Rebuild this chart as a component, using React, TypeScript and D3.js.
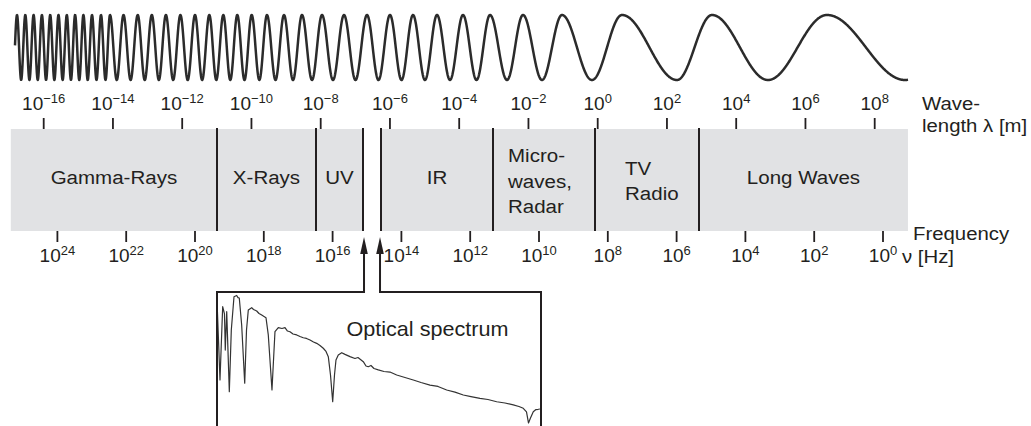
import React from 'react';
import * as d3 from 'd3';

const W = 1031;
const H = 426;

// ---- axis data ----
const wavelengthExponents = [-16, -14, -12, -10, -8, -6, -4, -2, 0, 2, 4, 6, 8];
const frequencyExponents = [24, 22, 20, 18, 16, 14, 12, 10, 8, 6, 4, 2, 0];

// ---- band data (log10 wavelength in m) ----
const bandExtent = [-16.95, 8.96];
const bandDividers = [-10.995, -8.136, -6.778, -6.258, -3.024, -0.078, 2.926];
const visibleGap = [-6.778, -6.258];
const bandNames = ['Gamma-Rays', 'X-Rays', 'UV', 'IR', 'Micro-|waves,|Radar', 'TV|Radio', 'Long Waves'];
const bandFrom = [-16.95, -10.995, -8.136, -6.258, -3.024, -0.078, 2.926];
const bandTo = [-10.995, -8.136, -6.778, -3.024, -0.078, 2.926, 8.96];

// ---- wave: positions of extrema (log10 wavelength), starting with a trough ----
const waveExtrema = [
  -16.892, -16.771, -16.651, -16.531, -16.412, -16.292, -16.172, -16.052, -15.932, -15.812,
  -15.692, -15.573, -15.453, -15.333, -15.213, -15.093, -14.973, -14.853, -14.729, -14.605,
  -14.475, -14.345, -14.215, -14.085, -13.890, -13.695, -13.490, -13.285, -13.082, -12.878,
  -12.674, -12.471, -12.261, -12.052, -11.841, -11.630, -11.424, -11.217, -11.015, -10.813,
  -10.611, -10.409, -10.201, -9.993, -9.772, -9.551, -9.305, -9.060, -8.800, -8.540,
  -8.251, -7.962, -7.645, -7.327, -6.995, -6.663, -6.331, -5.999, -5.666, -5.334,
  -4.988, -4.641, -4.266, -3.890, -3.500, -3.110, -2.619, -2.157, -1.609, -1.031,
  -0.165, 0.702, 2.290, 3.301, 4.919, 6.622, 8.875,
];
const waveRange = [-16.829, 8.962];

// ---- optical spectrum (wavelength nm, relative intensity) ----
const specNm = [
  350.6, 356.0, 361.4, 365.0, 366.6, 369.5, 374.7, 378.7, 384.1, 389.5, 392.1, 394.7, 399.5, 405.6,
  409.2, 412.8, 419.6, 423.2, 429.6, 434.3, 439.7, 444.3, 448.3, 452.9, 460.3, 466.3, 473.0, 480.3,
  486.4, 491.4, 496.4, 502.5, 509.9, 516.5, 523.1, 529.5, 536.6, 543.6, 550.0, 556.6, 563.2, 568.7,
  573.3, 577.7, 582.1, 585.7, 588.7, 593.3, 600.2, 606.8, 616.8, 626.8, 632.8, 643.5, 648.9, 653.5,
  658.9, 664.9, 673.6, 685.0, 697.0, 710.5, 727.1, 743.8, 759.3, 777.3, 793.3, 810.8, 827.4, 844.1,
  859.5, 877.6, 893.6, 911.1, 927.7, 944.4, 955.8, 964.4, 970.9, 974.9, 978.9, 984.5, 989.9, 994.5, 997.9,
];
const specIntensity = [
  86.9, 35.7, 88.1, 82.9, 57.1, 84.5, 27.4, 71.4, 95.2, 96.1, 94.6, 94.3, 75.0, 33.4,
  71.4, 85.7, 87.4, 86.1, 85.0, 83.2, 82.1, 81.1, 80.2, 67.9, 28.6, 70.2, 73.1, 72.5,
  73.1, 70.7, 70.2, 68.6, 67.9, 66.8, 65.9, 65.4, 64.3, 62.9, 61.9, 60.4, 58.4, 56.1,
  52.4, 39.3, 20.2, 39.3, 50.0, 53.6, 55.2, 54.0, 52.4, 51.1, 51.8, 48.8, 45.7, 45.2,
  46.1, 43.9, 42.9, 41.8, 41.4, 39.3, 37.5, 35.7, 33.9, 32.1, 31.1, 28.6, 27.1, 25.0,
  23.9, 22.6, 21.8, 20.2, 19.3, 17.9, 16.8, 15.5, 12.9, 5.0, 8.6, 13.1, 14.6, 14.8, 15.0,
];

const FONT = '"Liberation Sans", Arial, Helvetica, sans-serif';
const INK = '#231f20';

function T({ x, y, size, sx = 1, anchor = 'start', children }: any) {
  return (
    <text
      transform={`translate(${x},${y}) scale(${sx},1)`}
      fontSize={size}
      fontFamily={FONT}
      fill={INK}
      textAnchor={anchor}
    >
      {children}
    </text>
  );
}

export default function App() {
  const xL = d3.scaleLinear().domain([-16, 8]).range([43.7, 874.7]);
  const xF = d3.scaleLinear().domain([24, 0]).range([57.4, 883]);

  const bandTop = 129;
  const bandBottom = 231;

  // wave
  const phase = d3
    .scaleLinear()
    .domain(waveExtrema)
    .range(waveExtrema.map((_, i) => Math.PI * (i + 1)));
  const yc = 47.5;
  const amp = 32.5;
  const px0 = xL(waveRange[0]);
  const px1 = xL(waveRange[1]);
  const wavePts: [number, number][] = d3
    .range(px0, px1, 0.3)
    .concat([px1])
    .map((px) => [px, yc - amp * Math.cos(phase(xL.invert(px)))]);
  const wavePath = d3.line()(wavePts) || '';

  // spectrum
  const xS = d3.scaleLinear().domain([350, 1000]).range([217, 541]);
  const yS = d3.scaleLinear().domain([0, 100]).range([430, 290]);
  const specLine = d3
    .line<number>()
    .x((d) => xS(specNm[d]))
    .y((d) => yS(specIntensity[d]))(d3.range(specNm.length)) || '';

  const boxL = 217;
  const boxR = 541;
  const boxT = 292;
  const arrowL = xL(visibleGap[0]) + 1;
  const arrowR = xL(visibleGap[1]) - 1;
  const tipY = 237;
  const headY = 253;

  return (
    <svg
      width={W}
      height={H}
      style={{ position: 'absolute', left: 0, top: 0, background: '#fff' }}
    >
      <rect x={0} y={0} width={W} height={H} fill="#fff" />
      {/* wave */}
      <path d={wavePath} fill="none" stroke="#2b2b2b" strokeWidth={2.5} strokeLinejoin="round" />

      {/* wavelength tick labels */}
      {wavelengthExponents.map((e) => (
        <text key={'wl' + e} x={xL(e)} y={110} fontSize={19} fontFamily={FONT} fill={INK} textAnchor="middle">
          10
          <tspan dy={-7.5} fontSize={13}>
            {e < 0 ? '\u2212' + Math.abs(e) : String(e)}
          </tspan>
        </text>
      ))}
      {/* wavelength ticks */}
      {wavelengthExponents.map((e) => (
        <line key={'wt' + e} x1={xL(e)} x2={xL(e)} y1={118} y2={bandTop} stroke={INK} strokeWidth={1.8} />
      ))}

      {/* band */}
      <rect
        x={xL(bandExtent[0])}
        y={bandTop}
        width={xL(bandExtent[1]) - xL(bandExtent[0])}
        height={bandBottom - bandTop}
        fill="#e1e2e4"
      />
      <rect
        x={xL(visibleGap[0])}
        y={bandTop - 1}
        width={xL(visibleGap[1]) - xL(visibleGap[0])}
        height={bandBottom - bandTop + 2}
        fill="#fff"
      />
      {bandDividers.map((d, i) => (
        <line key={'bd' + i} x1={xL(d)} x2={xL(d)} y1={bandTop - 1} y2={bandBottom} stroke={INK} strokeWidth={2} />
      ))}

      {/* band labels */}
      {bandNames.map((name, i) => {
        const lines = name.split('|');
        const cx = (xL(bandFrom[i]) + xL(bandTo[i])) / 2;
        if (lines.length === 1) {
          return (
            <T key={name} x={cx} y={184} size={19} sx={1.08} anchor="middle">
              {name}
            </T>
          );
        }
        if (lines.length === 3) {
          return (
            <g key={name}>
              {lines.map((ln, j) => (
                <T key={ln} x={xL(bandFrom[i]) + 15} y={162 + j * 25.5} size={19} sx={1.08}>
                  {ln}
                </T>
              ))}
            </g>
          );
        }
        return (
          <g key={name}>
            {lines.map((ln, j) => (
              <T key={ln} x={xL(bandFrom[i]) + 30} y={175 + j * 25} size={19} sx={1.08}>
                {ln}
              </T>
            ))}
          </g>
        );
      })}

      {/* frequency ticks */}
      {frequencyExponents.map((e) => (
        <line key={'ft' + e} x1={xF(e)} x2={xF(e)} y1={bandBottom} y2={242} stroke={INK} strokeWidth={1.8} />
      ))}
      {frequencyExponents.map((e) => (
        <text key={'fl' + e} x={xF(e)} y={262} fontSize={19} fontFamily={FONT} fill={INK} textAnchor="middle">
          10
          <tspan dy={-7.5} fontSize={13}>
            {String(e)}
          </tspan>
        </text>
      ))}

      {/* axis titles */}
      <T x={922} y={110} size={18.5} sx={1.1}>Wave-</T>
      <T x={922} y={132} size={18.5} sx={1.1}>length λ [m]</T>
      <T x={913} y={240} size={18.5} sx={1.1}>Frequency</T>
      <T x={902} y={263} size={18.5} sx={1.1}>ν [Hz]</T>

      {/* optical spectrum box + arrows */}
      <path
        d={`M${boxL},${H + 2} V${boxT} H${arrowL} V${headY}`}
        fill="none"
        stroke={INK}
        strokeWidth={2}
      />
      <path
        d={`M${arrowR},${headY} V${boxT} H${boxR} V${H + 2}`}
        fill="none"
        stroke={INK}
        strokeWidth={2}
      />
      <polygon points={`${arrowL},${tipY} ${arrowL - 3.8},${headY + 1} ${arrowL + 3.8},${headY + 1}`} fill={INK} />
      <polygon points={`${arrowR},${tipY} ${arrowR - 3.8},${headY + 1} ${arrowR + 3.8},${headY + 1}`} fill={INK} />

      <clipPath id="specClip">
        <rect x={boxL + 1} y={boxT + 1} width={boxR - boxL - 2} height={H - boxT} />
      </clipPath>
      <path d={specLine} fill="none" stroke="#333" strokeWidth={1.2} strokeLinejoin="round" clipPath="url(#specClip)" />

      <T x={346.5} y={336} size={20} sx={1.08}>Optical spectrum</T>
    </svg>
  );
}
